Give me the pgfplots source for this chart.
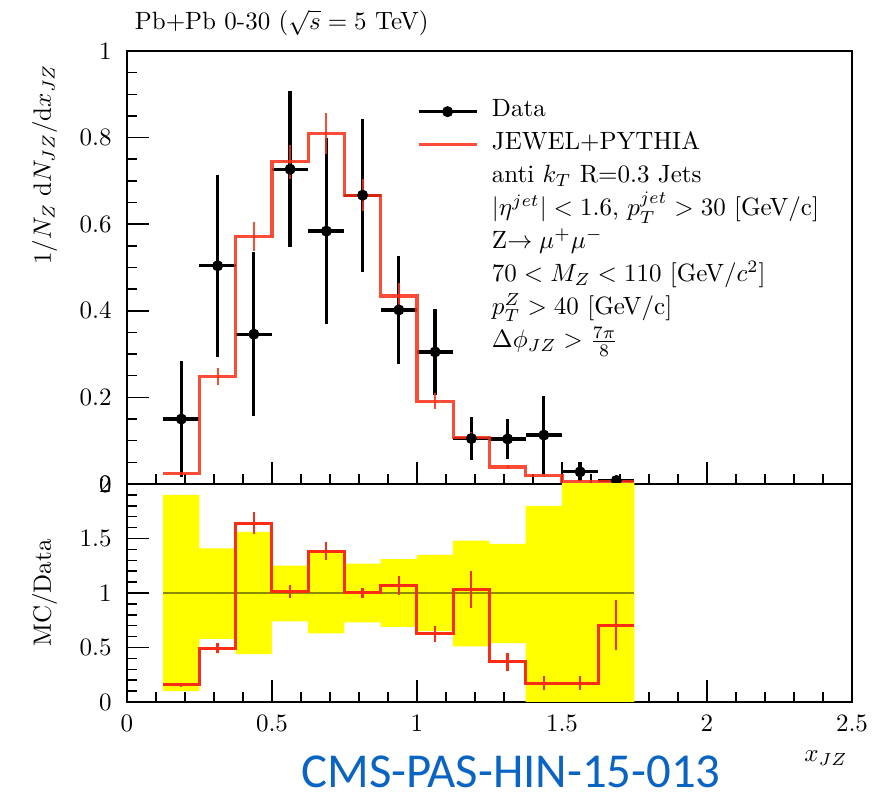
\documentclass[border=0pt]{standalone}
\usepackage{fontspec}
\usepackage{pgfplots}
\usepackage{pgfplotstable}
\pgfplotsset{compat=1.18}
\newfontfamily\calibri{Carlito}

\definecolor{jewel}{RGB}{250,45,20}
\definecolor{band}{RGB}{255,255,0}
\definecolor{cmsblue}{RGB}{10,100,195}

% x_JZ bins of width 0.125: data points (centre, value, half-width, error)
\pgfplotstableread{
x      y     ex     ey
0.1875 0.150 0.0625 0.133
0.3125 0.504 0.0625 0.210
0.4375 0.346 0.0625 0.190
0.5625 0.727 0.0625 0.180
0.6875 0.584 0.0625 0.215
0.8125 0.667 0.0625 0.177
0.9375 0.402 0.0625 0.125
1.0625 0.305 0.0625 0.100
1.1875 0.105 0.0625 0.050
1.3125 0.104 0.0625 0.046
1.4375 0.113 0.0625 0.090
1.5625 0.028 0.0625 0.022
1.6875 0.008 0.0625 0.004
}\datatab

% JEWEL+PYTHIA histogram (lower bin edges, last row closes the final bin)
\pgfplotstableread{
x     y
0.125 0.024
0.25  0.249
0.375 0.572
0.5   0.744
0.625 0.810
0.75  0.667
0.875 0.434
1.0   0.191
1.125 0.107
1.25  0.039
1.375 0.019
1.5   0.006
1.625 0.006
1.75  0.006
}\mctab

\pgfplotstableread{
x      y     ey
0.3125 0.249 0.020
0.4375 0.572 0.033
0.5625 0.744 0.040
0.6875 0.810 0.047
0.8125 0.667 0.037
0.9375 0.434 0.030
1.0625 0.191 0.018
1.1875 0.107 0.013
1.3125 0.039 0.005
1.4375 0.019 0.003
}\mcerr

% MC/Data ratio
\pgfplotstableread{
x     y
0.125 0.156
0.25  0.495
0.375 1.640
0.5   1.010
0.625 1.385
0.75  1.000
0.875 1.070
1.0   0.624
1.125 1.035
1.25  0.367
1.375 0.174
1.5   0.174
1.625 0.706
1.75  0.706
}\ratiotab

\pgfplotstableread{
x      y     ey
0.1875 0.156 0.020
0.3125 0.495 0.050
0.4375 1.640 0.100
0.5625 1.010 0.060
0.6875 1.385 0.085
0.8125 1.000 0.050
0.9375 1.070 0.090
1.0625 0.624 0.070
1.1875 1.035 0.170
1.3125 0.367 0.080
1.4375 0.174 0.060
1.5625 0.174 0.060
1.6875 0.706 0.230
}\ratioerr

\pgfplotsset{
  hinframe/.style={
    scale only axis, width=290pt,
    xmin=0, xmax=2.5,
    xtick={0,0.5,1,1.5,2,2.5}, minor x tick num=4,
    xtick pos=bottom, ytick pos=left,
    tick align=inside,
    major tick length=8.8pt, minor tick length=4pt,
    every tick/.style={black, line width=0.6pt},
    axis line style={line width=0.8pt},
    yticklabel style={xshift=-2.6pt},
    xticklabel style={yshift=-1.7pt},
  },
}

\begin{document}
\begin{tikzpicture}
\useasboundingbox (0,0) rectangle (348.8pt,318.4pt);

% upper panel: normalised x_JZ distribution
\begin{axis}[hinframe,
  at={(50.8pt,124.8pt)}, anchor=south west, height=173.2pt,
  ymin=0, ymax=1, ytick={0,0.2,0.4,0.6,0.8,1}, minor y tick num=3,
  xticklabels={},
  ylabel={$1/N_Z\;\mathrm{d}N_{JZ}/\mathrm{d}x_{JZ}$},
  ylabel style={at={(axis description cs:-0.105,0.99)}, anchor=base east},
  legend cell align=left,
  legend style={at={(0.4,0.898)}, anchor=north west, draw=none, fill=none,
    inner sep=0pt, outer sep=0pt, column sep=5pt, row sep=0pt,
    nodes={inner sep=0.5pt, text height=8.2pt, text depth=4pt}},
]
\addplot[black, only marks, mark=*, mark size=2pt,
  legend image code/.code={
    \draw[black, line width=1.3pt] (0pt,0pt) -- (23.2pt,0pt);
    \fill[black] (11.6pt,0pt) circle (2pt);},
  error bars/.cd, x dir=both, x explicit, y dir=both, y explicit,
  error mark=none, error bar style={black, line width=1.3pt}]
  table[x=x, y=y, x error=ex, y error=ey] {\datatab};
\addlegendentry{Data}
\addplot[jewel, opacity=0.85, line width=1.3pt, const plot,
  legend image code/.code={
    \draw[jewel, line width=1.3pt] (0pt,0pt) -- (23.2pt,0pt);}]
  table[x=x, y=y] {\mctab};
\addlegendentry{JEWEL+PYTHIA}
\addplot[draw=none, mark=none, forget plot,
  error bars/.cd, y dir=both, y explicit, error mark=none,
  error bar style={draw=jewel, draw opacity=0.85, line width=0.8pt}]
  table[x=x, y=y, y error=ey] {\mcerr};
\addlegendimage{empty legend}
\addlegendentry{anti $k_T$ R=0.3 Jets}
\addlegendimage{empty legend}
\addlegendentry{$|\eta^{jet}| < 1.6$, $p_T^{jet} > 30$ [GeV/c]}
\addlegendimage{empty legend}
\addlegendentry{Z$\rightarrow\mu^+\mu^-$}
\addlegendimage{empty legend}
\addlegendentry{$70 < M_Z < 110$ [GeV/$c^2$]}
\addlegendimage{empty legend}
\addlegendentry{$p_T^Z > 40$ [GeV/c]}
\addlegendimage{empty legend}
\addlegendentry{$\Delta\phi_{JZ} > \frac{7\pi}{8}$}
\end{axis}

% lower panel: MC/Data ratio with the data uncertainty band
\begin{axis}[hinframe,
  at={(50.8pt,37.6pt)}, anchor=south west, height=87.2pt,
  ymin=0, ymax=2, ytick={0,0.5,1,1.5,2}, minor y tick num=4,
  xlabel={$x_{JZ}$},
  xlabel style={at={(axis description cs:1,0)}, anchor=base east,
    yshift=-24pt, xshift=1.7pt},
  ylabel={MC/Data},
  ylabel style={at={(axis description cs:-0.105,0.5)}, anchor=base},
]
\addplot[fill=band, draw=none] coordinates {
  (0.125,1.90) (0.25,1.90) (0.25,1.41) (0.375,1.41) (0.375,1.56) (0.5,1.56)
  (0.5,1.25) (0.625,1.25) (0.625,1.37) (0.75,1.37) (0.75,1.27) (0.875,1.27)
  (0.875,1.31) (1.0,1.31) (1.0,1.35) (1.125,1.35) (1.125,1.48) (1.25,1.48)
  (1.25,1.45) (1.375,1.45) (1.375,1.80) (1.5,1.80) (1.5,2.5) (1.75,2.5)
  (1.75,0) (1.375,0) (1.375,0.54) (1.25,0.54) (1.25,0.51) (1.125,0.51)
  (1.125,0.65) (1.0,0.65) (1.0,0.69) (0.875,0.69) (0.875,0.73) (0.75,0.73)
  (0.75,0.63) (0.625,0.63) (0.625,0.74) (0.5,0.74) (0.5,0.44) (0.375,0.44)
  (0.375,0.58) (0.25,0.58) (0.25,0.10) (0.125,0.10)
} --cycle;
\addplot[black, opacity=0.45, line width=1pt] coordinates {(0.125,1) (1.75,1)};
\addplot[jewel, line width=1.2pt, const plot] table[x=x, y=y] {\ratiotab};
\addplot[draw=none, mark=none,
  error bars/.cd, y dir=both, y explicit, error mark=none,
  error bar style={draw=jewel, line width=0.9pt}]
  table[x=x, y=y, y error=ey] {\ratioerr};
\end{axis}

\node[anchor=base west] at (50.4pt,306.4pt) {Pb+Pb 0-30 ($\sqrt{s}=5$ TeV)};
\node[anchor=base, text=cmsblue, font=\calibri\fontsize{19.5}{22}\selectfont]
  at (204.4pt,3.2pt) {CMS-PAS-HIN-15-013};
\end{tikzpicture}
\end{document}
